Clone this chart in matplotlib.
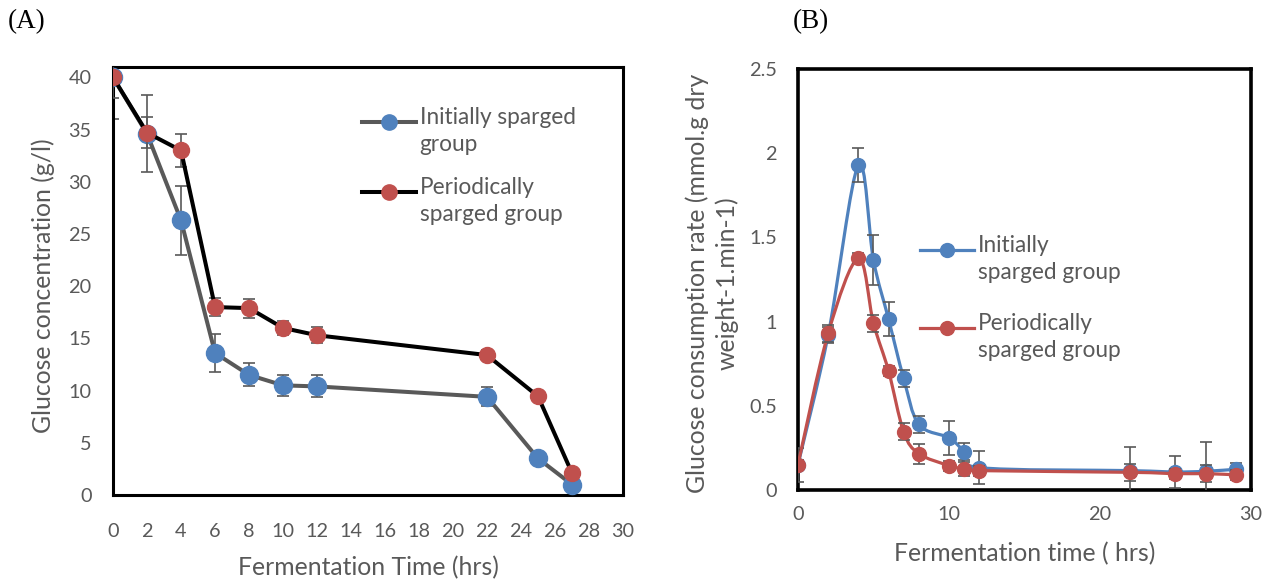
import numpy as np
import matplotlib
matplotlib.use("Agg")
import matplotlib.pyplot as plt
from matplotlib.path import Path
from matplotlib.patches import PathPatch
from matplotlib.lines import Line2D
from matplotlib.legend_handler import HandlerLine2D

plt.rcParams['font.family'] = ['Lato', 'DejaVu Sans']

TXT = '#595959'
BLUE = '#4F81BD'
RED = '#C0504D'
ERR = '#595959'
TICK_FS = 14.3
LABEL_FS = 17.8
LEG_FS = 16.3
LEG_LS = 1.35

# (A) glucose concentration, g/l
time_a = [0, 2, 4, 6, 8, 10, 12, 22, 25, 27]
init_a = [40, 34.6, 26.3, 13.6, 11.5, 10.5, 10.4, 9.4, 3.5, 1.0]
init_a_lo = [4.0, 3.7, 3.3, 1.8, 1.1, 1.0, 1.05, 0.9, 0.3, 0.3]
init_a_hi = [0.0, 3.7, 3.3, 1.8, 1.1, 1.0, 1.05, 0.9, 0.3, 0.3]
peri_a = [40, 34.7, 33.0, 18.0, 17.9, 16.0, 15.3, 13.4, 9.45, 2.1]
peri_a_err = [2.0, 1.5, 1.6, 0.85, 0.9, 0.7, 0.75, 0.5, 0.3, 0.3]

# (B) glucose consumption rate
time_b = [0, 2, 4, 5, 6, 7, 8, 10, 11, 12, 22, 25, 27, 29]
init_b = [0.15, 0.92, 1.93, 1.365, 1.015, 0.663, 0.39, 0.31, 0.228, 0.133, 0.115, 0.107, 0.111, 0.123]
init_b_err = [0.1, 0.05, 0.1, 0.15, 0.1, 0.05, 0.05, 0.1, 0.05, 0.1, 0.14, 0.095, 0.175, 0.035]
peri_b = [0.15, 0.93, 1.375, 0.99, 0.707, 0.345, 0.216, 0.145, 0.125, 0.115, 0.105, 0.097, 0.097, 0.09]
peri_b_err = [0.03, 0.05, 0.03, 0.05, 0.03, 0.05, 0.06, 0.03, 0.04, 0.03, 0.05, 0.03, 0.05, 0.03]

labels_a = ['Initially sparged\ngroup', 'Periodically\nsparged group']
labels_b = ['Initially\nsparged group', 'Periodically\nsparged group']


def smooth_path(x, y):
    # Catmull-Rom through the points, written as cubic bezier segments
    p = np.column_stack([x, y]).astype(float)
    ext = np.vstack([p[0], p, p[-1]])
    verts = [p[0]]
    codes = [Path.MOVETO]
    for i in range(len(p) - 1):
        p0, p1, p2, p3 = ext[i], ext[i + 1], ext[i + 2], ext[i + 3]
        verts += [p1 + (p2 - p0) / 6, p2 - (p3 - p1) / 6, p2]
        codes += [Path.CURVE4] * 3
    return Path(verts, codes)


class FirstLineHandler(HandlerLine2D):
    # put the legend handle next to the first line of a two-line label
    def __init__(self, shift, **kw):
        super().__init__(**kw)
        self.shift = shift

    def create_artists(self, legend, orig_handle, xdescent, ydescent, width, height, fontsize, trans):
        return super().create_artists(legend, orig_handle, xdescent, ydescent - self.shift,
                                      width, height, fontsize, trans)


def style_axes(ax, lw):
    for s in ax.spines.values():
        s.set_linewidth(lw)
        s.set_color('black')
    ax.tick_params(length=0, labelcolor=TXT, labelsize=TICK_FS)


def add_legend(ax, handles, labels, anchor, spacing):
    leg = ax.legend(handles, labels, loc='upper left', bbox_to_anchor=anchor,
                    frameon=False, fontsize=LEG_FS, labelcolor=TXT, borderpad=0,
                    borderaxespad=0, handlelength=2.4, handletextpad=0.15,
                    labelspacing=spacing,
                    handler_map={h: FirstLineHandler(0.6 * LEG_FS * LEG_LS) for h in handles})
    for t in leg.get_texts():
        t.set_linespacing(LEG_LS)
    return leg


fig = plt.figure(figsize=(12.66, 5.80), dpi=100)

# ---- panel A ----
axA = fig.add_axes([0.0893, 0.1466, 0.4028, 0.7379])
axA.errorbar(time_a, init_a, yerr=[init_a_lo, init_a_hi], fmt='none', ecolor=ERR,
             elinewidth=1.2, capsize=4.5, capthick=1.2, zorder=2)
axA.plot(time_a, init_a, color='#595959', lw=2.9, marker='o', ms=13,
         mfc=BLUE, mec=BLUE, zorder=3)
axA.errorbar(time_a, peri_a, yerr=peri_a_err, fmt='none', ecolor=ERR,
             elinewidth=1.2, capsize=4.5, capthick=1.2, zorder=4)
axA.plot(time_a, peri_a, color='black', lw=2.9, marker='o', ms=11.5,
         mfc=RED, mec=RED, zorder=5)
axA.set_xlim(0, 30)
axA.set_ylim(0, 41)
axA.set_xticks(range(0, 31, 2))
axA.set_yticks(range(0, 41, 5))
style_axes(axA, 2.2)
axA.tick_params(axis='x', pad=20)
axA.tick_params(axis='y', pad=15.5)
axA.set_xlabel('Fermentation Time (hrs)', color=TXT, fontsize=LABEL_FS)
axA.set_ylabel('Glucose concentration (g/l)', color=TXT, fontsize=LABEL_FS)
axA.xaxis.set_label_coords(0.5, -0.142)
axA.yaxis.set_label_coords(-0.114, 0.49)

hA = [Line2D([], [], color='#595959', lw=2.9, marker='o', ms=11, mfc=BLUE, mec=BLUE),
      Line2D([], [], color='black', lw=2.9, marker='o', ms=11, mfc=RED, mec=RED)]
add_legend(axA, hA, labels_a, (0.488, 0.907), 0.98)

# ---- panel B ----
axB = fig.add_axes([0.6303, 0.1552, 0.3578, 0.7259])
axB.add_patch(PathPatch(smooth_path(time_b, init_b), fc='none', ec=BLUE, lw=2.3, zorder=2))
axB.errorbar(time_b, init_b, yerr=init_b_err, fmt='none', ecolor=ERR,
             elinewidth=1.2, capsize=4, capthick=1.2, zorder=3)
axB.plot(time_b, init_b, ls='none', marker='o', ms=10, mfc=BLUE, mec=BLUE, zorder=4)
axB.add_patch(PathPatch(smooth_path(time_b, peri_b), fc='none', ec=RED, lw=2.3, zorder=5))
axB.errorbar(time_b, peri_b, yerr=peri_b_err, fmt='none', ecolor=ERR,
             elinewidth=1.2, capsize=4, capthick=1.2, zorder=6)
axB.plot(time_b, peri_b, ls='none', marker='o', ms=10, mfc=RED, mec=RED, zorder=7)
axB.set_xlim(0, 30)
axB.set_ylim(0, 2.5)
axB.set_xticks([0, 10, 20, 30])
axB.set_yticks([0, 0.5, 1, 1.5, 2, 2.5])
axB.set_yticklabels(['0', '0.5', '1', '1.5', '2', '2.5'])
style_axes(axB, 2.6)
axB.tick_params(axis='x', pad=11.5)
axB.tick_params(axis='y', pad=15)
axB.set_xlabel('Fermentation time ( hrs)', color=TXT, fontsize=LABEL_FS)
axB.set_ylabel('Glucose consumption rate (mmol.g dry\nweight-1.min-1)', color=TXT,
               fontsize=LABEL_FS, linespacing=1.3)
axB.xaxis.set_label_coords(0.5, -0.124)
axB.yaxis.set_label_coords(-0.132, 0.49)

hB = [Line2D([], [], color=BLUE, lw=2.3, marker='o', ms=10, mfc=BLUE, mec=BLUE),
      Line2D([], [], color=RED, lw=2.3, marker='o', ms=10, mfc=RED, mec=RED)]
add_legend(axB, hB, labels_b, (0.269, 0.606), 1.32)

fig.text(0.006, 0.962, '(A)', family='Liberation Serif', fontsize=19.5, va='center')
fig.text(0.626, 0.962, '(B)', family='Liberation Serif', fontsize=19.5, va='center')

fig.savefig('out.png', dpi=100)
